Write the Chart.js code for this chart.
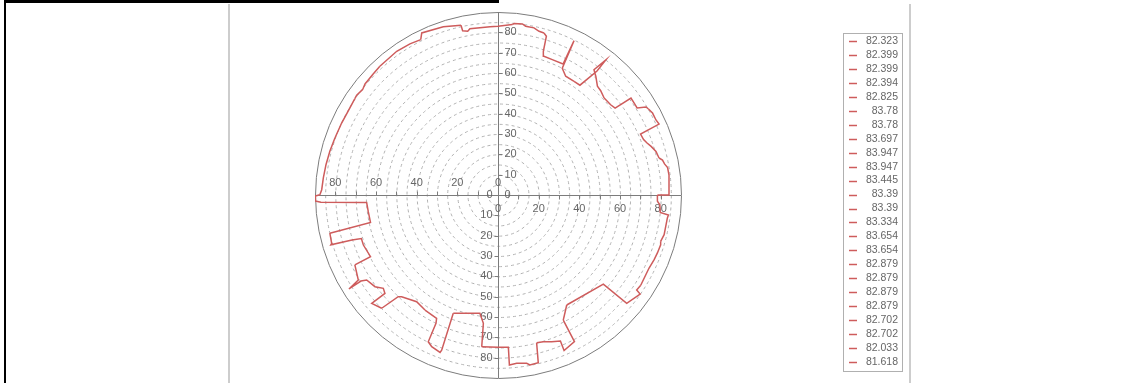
<!DOCTYPE html>
<html lang="en">
<head>
<meta charset="UTF-8">
<title>Polar trace</title>
<style>
  body { margin: 0; background: #fff; overflow: hidden; }
  #page { position: relative; width: 1131px; height: 383px; }
  .rule { position: absolute; }
  #top-bar { left: 6px; top: 0; width: 493px; height: 3px; background: #000; }
  #left-edge { left: 4px; top: 0; width: 2px; height: 383px; background: #000; }
  #col-left { left: 228px; top: 4px; width: 2px; height: 379px; background: #cdcdcd; }
  #col-right { left: 909px; top: 4px; width: 2px; height: 379px; background: #cdcdcd; }
  #trace { position: absolute; left: 0; top: 0; }
</style>
</head>
<body>
<div id="page">
  <div class="rule" id="top-bar"></div>
  <div class="rule" id="left-edge"></div>
  <div class="rule" id="col-left"></div>
  <div class="rule" id="col-right"></div>
  <canvas id="trace" width="1131" height="383"></canvas>
</div>

<script src="https://cdn.jsdelivr.net/npm/chart.js"></script>
<script>
// series names shown in the legend (one per 15 degree sector)
const seriesLabels = ['82.323', '82.399', '82.399', '82.394', '82.825', '83.78', '83.78', '83.697',
  '83.947', '83.947', '83.445', '83.39', '83.39', '83.334', '83.654', '83.654',
  '82.879', '82.879', '82.879', '82.879', '82.702', '82.702', '82.033', '81.618'];

// contour, east / north components, counter-clockwise from 0 deg
const eastVals = [78.4, 84.1, 84.1, 83.4, 81.9, 80.9, 79.2, 77.7, 75.3, 73.3, 71.6, 70.1, 79.2, 77.7, 76.0,
  74.0, 72.8, 68.4, 66.9, 65.4, 57.6, 55.4, 52.2, 50.5, 48.9, 48.1, 47.2, 53.0, 48.7, 40.3,
  37.4, 33.3, 31.6, 37.4, 32.0, 26.7, 22.6, 22.3, 23.8, 22.6, 20.2, 17.7, 13.6, 12.0, 7.9,
  7.0, 0, -3.9, -13.8, -14.9, -17.4, -18.2, -26.9, -37.5, -38.0, -43.3, -49.8, -58.1, -61.4, -65.4,
  -66.6, -69.5, -70.4, -73.7, -76.9, -80.2, -82.7, -84.6, -85.9, -86.7, -87.6, -89.8, -89.8, -87.1, -64.6,
  -63.8, -62.7, -82.7, -81.8, -82.2, -71.8, -67.2, -66.2, -62.7, -70.4, -68.7, -73.3, -67.4, -64.6, -60.5,
  -56.4, -55.6, -62.1, -57.2, -49.1, -47.4, -40.0, -35.9, -30.2, -30.5, -34.3, -32.6, -28.5, -27.7, -22.0,
  -8.9, -7.2, -8.0, 0.1, 5.1, 5.6, 9.2, 14.1, 15.7, 19.8, 19.0, 22.3, 26.4, 30.7, 32.5,
  37.6, 32.1, 33.8, 51.8, 63.3, 69.9, 68.2, 70.2, 72.7, 74.3, 76.8, 78.4, 80.0, 80.0, 81.7,
  83.3, 83.8, 79.8, 79.6, 78.4, 78.4];
const northVals = [0, 0, 9.8, 13.5, 15.3, 17.2, 18.2, 21.4, 23.9, 25.6, 27.3, 30.0, 34.9, 36.9, 40.3,
  42.3, 43.3, 42.8, 45.3, 47.7, 42.7, 44.4, 47.7, 51.3, 53.5, 58.4, 61.6, 66.4, 61.0, 54.0,
  55.9, 58.4, 62.3, 75.9, 64.4, 66.6, 68.2, 70.7, 78.1, 79.7, 80.5, 82.2, 83.0, 84.1, 84.3,
  83.8, 83.0, 82.7, 81.8, 80.5, 80.8, 83.5, 82.7, 79.7, 76.4, 74.3, 70.7, 63.3, 59.5, 54.6,
  51.8, 49.1, 47.4, 41.2, 35.4, 28.0, 21.5, 14.9, 8.4, 2.6, 0.1, -0.5, -3.0, -3.6, -3.7,
  -8.2, -13.5, -18.8, -23.8, -24.5, -22.1, -21.4, -24.6, -30.3, -34.4, -41.8, -46.2, -42.3, -41.8, -45.1,
  -45.9, -48.4, -53.3, -55.7, -50.0, -50.0, -52.5, -56.6, -60.7, -63.1, -72.2, -74.6, -77.4, -76.3, -58.2,
  -58.2, -63.1, -74.6, -74.9, -74.9, -83.6, -82.8, -82.8, -83.6, -82.5, -72.7, -72.2, -72.2, -71.8, -76.5,
  -72.1, -61.5, -54.1, -43.8, -53.3, -48.7, -46.7, -44.4, -39.2, -35.9, -31.8, -28.5, -24.5, -22.8, -19.5,
  -11.3, -9.8, -8.6, -4.8, -3.1, 0];

// axis furniture
const maxRadius = 90;
const ringSteps = [5, 10, 15, 20, 25, 30, 35, 40, 45, 50, 55, 60, 65, 70, 75, 80, 85];
const tickMarks = [10, 20, 30, 40, 50, 60, 70, 80];
const xTickLabels = [0, 20, 40, 60, 80];
const yTickLabels = [0, 10, 20, 30, 40, 50, 60, 70, 80];

const lineColor = 'rgb(206, 92, 92)';
const labelFont = '11px "Liberation Sans", Arial, sans-serif';

// split the contour into one dataset per sector, sharing the joint point
function buildDatasets() {
    const groups = seriesLabels.map(() => []);
    const sector = 360 / seriesLabels.length;
    let cur = 0;
    eastVals.forEach((x, i) => {
        const y = northVals[i];
        let deg = Math.atan2(y, x) * 180 / Math.PI;
        if (deg < 0) deg += 360;
        if (i === eastVals.length - 1) deg = 360;
        const s = Math.min(seriesLabels.length - 1, Math.max(cur, Math.floor(deg / sector)));
        if (s !== cur) {
            const last = groups[cur][groups[cur].length - 1];
            for (let k = cur + 1; k <= s; k++) groups[k].push(last);
            cur = s;
        }
        groups[cur].push({ x, y });
    });
    return groups.map((pts, i) => ({
        label: seriesLabels[i],
        data: pts,
        showLine: true,
        fill: false,
        borderColor: lineColor,
        borderWidth: 1.5,
        pointRadius: 0,
        tension: 0
    }));
}

// rings, cross axes, ticks and their labels
const polarGrid = {
    id: 'polarGrid',
    beforeDatasetsDraw(chart) {
        const { ctx, scales: { x, y } } = chart;
        const cx = Math.round(x.getPixelForValue(0)) + 0.5;
        const cy = Math.round(y.getPixelForValue(0)) + 0.5;
        const rad = v => x.getPixelForValue(v) - x.getPixelForValue(0);

        ctx.save();
        ctx.lineWidth = 1;
        ctx.strokeStyle = '#b2b2b2';
        ctx.setLineDash([3, 3]);
        ringSteps.forEach(r => {
            ctx.beginPath();
            ctx.arc(cx, cy, rad(r), 0, Math.PI * 2);
            ctx.stroke();
        });
        ctx.setLineDash([]);

        ctx.strokeStyle = '#7c7c7c';
        ctx.beginPath();
        ctx.arc(cx, cy, rad(maxRadius), 0, Math.PI * 2);
        ctx.stroke();

        ctx.beginPath();
        ctx.moveTo(x.getPixelForValue(-maxRadius), cy);
        ctx.lineTo(x.getPixelForValue(maxRadius), cy);
        ctx.moveTo(cx, y.getPixelForValue(maxRadius));
        ctx.lineTo(cx, y.getPixelForValue(-maxRadius));
        tickMarks.forEach(t => {
            const xl = Math.round(x.getPixelForValue(-t)) + 0.5;
            const xr = Math.round(x.getPixelForValue(t)) + 0.5;
            const yu = Math.round(y.getPixelForValue(t)) + 0.5;
            const yd = Math.round(y.getPixelForValue(-t)) + 0.5;
            ctx.moveTo(xl, cy); ctx.lineTo(xl, cy - 4);
            ctx.moveTo(xr, cy); ctx.lineTo(xr, cy + 4);
            ctx.moveTo(cx, yu); ctx.lineTo(cx + 4, yu);
            ctx.moveTo(cx, yd); ctx.lineTo(cx - 4, yd);
        });
        ctx.stroke();

        ctx.fillStyle = '#666';
        ctx.font = labelFont;
        ctx.textBaseline = 'middle';
        ctx.textAlign = 'center';
        xTickLabels.forEach(t => {
            ctx.fillText(String(t), x.getPixelForValue(-t), cy - 13);
            ctx.fillText(String(t), x.getPixelForValue(t), cy + 13);
        });
        ctx.textAlign = 'left';
        yTickLabels.forEach(t => ctx.fillText(String(t), cx + 6, y.getPixelForValue(t)));
        ctx.textAlign = 'right';
        yTickLabels.forEach(t => ctx.fillText(String(t), cx - 6, y.getPixelForValue(-t)));
        ctx.restore();
    }
};

// boxed legend with right-aligned names
const sideLegend = {
    id: 'sideLegend',
    afterDraw(chart) {
        const { ctx } = chart;
        const box = { left: 843.5, top: 33.5, width: 59, height: 338 };
        const firstRow = 41, rowStep = 13.96, textRight = 898;
        ctx.save();
        ctx.strokeStyle = '#b0b0b0';
        ctx.lineWidth = 1;
        ctx.strokeRect(box.left, box.top, box.width, box.height);
        ctx.font = '10.5px "Liberation Sans", Arial, sans-serif';
        ctx.textAlign = 'right';
        ctx.textBaseline = 'middle';
        chart.data.datasets.forEach((ds, i) => {
            const rowY = firstRow + i * rowStep;
            const lineY = Math.round(rowY) + 0.5;
            ctx.strokeStyle = ds.borderColor;
            ctx.lineWidth = 1.5;
            ctx.beginPath();
            ctx.moveTo(849, lineY);
            ctx.lineTo(857, lineY);
            ctx.stroke();
            ctx.fillStyle = '#666';
            ctx.fillText(ds.label, textRight, rowY);
        });
        ctx.restore();
    }
};

new Chart(document.getElementById('trace'), {
    type: 'scatter',
    data: { datasets: buildDatasets() },
    options: {
        responsive: false,
        animation: false,
        devicePixelRatio: 1,
        layout: { padding: { left: 315, right: 450, top: 12, bottom: 5 } },
        scales: {
            x: { type: 'linear', min: -maxRadius, max: maxRadius, display: false },
            y: { type: 'linear', min: -maxRadius, max: maxRadius, display: false }
        },
        plugins: {
            legend: { display: false },
            tooltip: { enabled: false }
        }
    },
    plugins: [polarGrid, sideLegend]
});
</script>
</body>
</html>
